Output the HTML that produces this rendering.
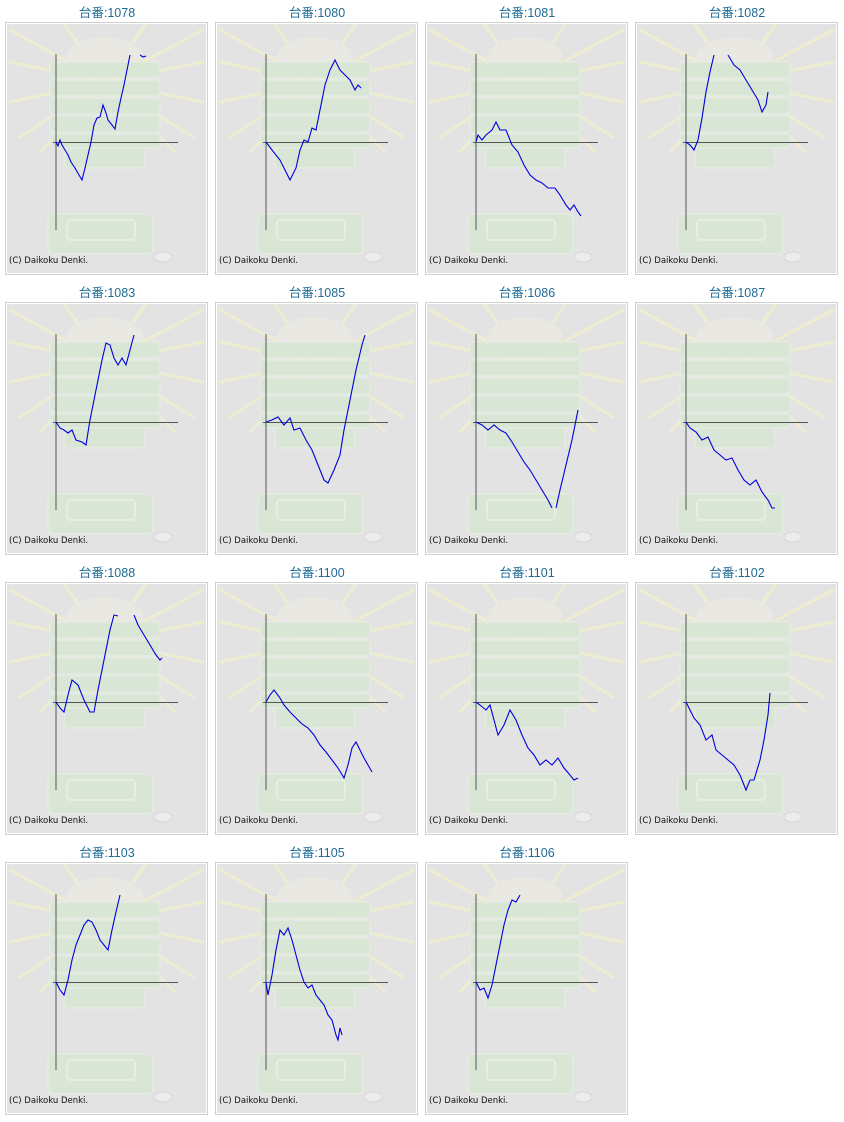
<!DOCTYPE html>
<html><head><meta charset="utf-8"><style>
body{margin:0;background:#fff;}
svg{display:block}
.t{font-family:"Liberation Sans","Noto Sans CJK JP",sans-serif;font-size:12.5px;fill:#1e6b96;text-anchor:middle}
.c{font-family:"DejaVu Sans","Liberation Sans",sans-serif;font-size:8.5px;fill:#111}
polyline.d{fill:none;stroke:#0000dd;stroke-width:1.1}
</style></head><body>
<svg width="844" height="1122" viewBox="0 0 844 1122" xmlns="http://www.w3.org/2000/svg">
<defs>
<g id="bg">
<rect x="0.5" y="0.5" width="202" height="252" fill="#fff" stroke="#cfcfcf"/>
<rect x="2" y="2" width="199" height="249" fill="#e3e3e3"/>
<g stroke="#eeedd2" stroke-width="3" stroke-linecap="round">
<line x1="100" y1="60" x2="5" y2="8"/><line x1="100" y1="60" x2="5" y2="40"/><line x1="100" y1="60" x2="5" y2="80"/><line x1="100" y1="60" x2="15" y2="115"/>
<line x1="100" y1="60" x2="198" y2="8"/><line x1="100" y1="60" x2="198" y2="40"/><line x1="100" y1="60" x2="198" y2="80"/><line x1="100" y1="60" x2="188" y2="115"/>
<line x1="100" y1="60" x2="60" y2="3"/><line x1="100" y1="60" x2="140" y2="3"/><line x1="100" y1="60" x2="35" y2="130"/><line x1="100" y1="60" x2="170" y2="130"/>
</g>
<ellipse cx="100" cy="35" rx="38" ry="20" fill="#e9e8e3"/>
<g fill="#d9e6d5" stroke="#e4ece1" stroke-width="1.5">
<rect x="45" y="40" width="110" height="16" rx="3"/><rect x="45" y="58" width="110" height="16" rx="3"/>
<rect x="45" y="76" width="110" height="16" rx="3"/><rect x="45" y="94" width="110" height="16" rx="3"/>
<rect x="45" y="112" width="110" height="14" rx="3"/><rect x="60" y="126" width="80" height="20" rx="3"/>
<rect x="43" y="192" width="105" height="40" rx="5"/>
</g>
<rect x="62" y="198" width="68" height="20" rx="3" fill="none" stroke="#e6ede3" stroke-width="2"/>
<ellipse cx="158" cy="235" rx="9" ry="5" fill="#ececec" stroke="#d6d6d6"/>
<line x1="51" y1="32" x2="51" y2="208" stroke="#555" stroke-width="1"/>
<line x1="48" y1="120.5" x2="173" y2="120.5" stroke="#555" stroke-width="1"/>
<text class="c" x="4" y="241">(C) Daikoku Denki.</text>
</g>
</defs>
<text class="t" x="107" y="17">台番:1078</text><text class="t" x="317" y="17">台番:1080</text><text class="t" x="527" y="17">台番:1081</text><text class="t" x="737" y="17">台番:1082</text>
<text class="t" x="107" y="297">台番:1083</text><text class="t" x="317" y="297">台番:1085</text><text class="t" x="527" y="297">台番:1086</text><text class="t" x="737" y="297">台番:1087</text>
<text class="t" x="107" y="577">台番:1088</text><text class="t" x="317" y="577">台番:1100</text><text class="t" x="527" y="577">台番:1101</text><text class="t" x="737" y="577">台番:1102</text>
<text class="t" x="107" y="857">台番:1103</text><text class="t" x="317" y="857">台番:1105</text><text class="t" x="527" y="857">台番:1106</text>
<use href="#bg" x="5" y="22"/><use href="#bg" x="215" y="22"/><use href="#bg" x="425" y="22"/><use href="#bg" x="635" y="22"/>
<use href="#bg" x="5" y="302"/><use href="#bg" x="215" y="302"/><use href="#bg" x="425" y="302"/><use href="#bg" x="635" y="302"/>
<use href="#bg" x="5" y="582"/><use href="#bg" x="215" y="582"/><use href="#bg" x="425" y="582"/><use href="#bg" x="635" y="582"/>
<use href="#bg" x="5" y="862"/><use href="#bg" x="215" y="862"/><use href="#bg" x="425" y="862"/>

<polyline class="d" points="56,142 58,146 60,140 62,145 65,150 68,155 71,162 75,168 79,175 82,180 85,168 88,155 91,142 94,125 97,118 100,117 103,105 106,113 108,120 112,125 115,129 118,112 121,98 124,85 127,70 130,55"/>
<polyline class="d" points="140,55 143,57 146,56"/>
<polyline class="d" points="266,142 272,150 280,160 285,170 290,180 296,168 300,150 304,140 308,142 312,128 316,130 320,110 325,85 330,70 335,60 340,70 345,75 350,80 355,90 358,85 361,88"/>
<polyline class="d" points="476,142 478,135 482,140 486,135 492,130 496,122 500,130 506,130 512,145 518,152 524,165 530,175 536,180 542,183 548,188 555,188 560,195 566,205 570,210 574,205 578,212 581,216"/>
<polyline class="d" points="686,142 690,145 694,150 698,140 702,118 706,92 710,72 714,55"/>
<polyline class="d" points="728,55 734,65 740,70 746,80 752,90 758,100 762,112 766,105 768,92"/>
<polyline class="d" points="56,422 60,428 64,430 68,433 72,430 76,440 82,442 86,445 90,420 94,400 98,380 102,360 106,343 110,345 114,358 118,365 122,358 126,365 130,350 134,335"/>
<polyline class="d" points="266,422 272,420 278,417 284,425 290,418 294,430 300,428 306,440 312,450 318,465 324,480 328,483 334,470 340,455 344,430 350,400 356,370 362,345 365,335"/>
<polyline class="d" points="476,422 482,425 488,430 494,425 500,430 506,433 512,442 518,452 524,462 530,470 536,480 542,490 548,500 552,508"/>
<polyline class="d" points="556,508 560,490 566,465 572,440 578,410"/>
<polyline class="d" points="686,422 690,428 696,432 702,440 708,437 714,450 720,455 726,460 732,458 738,470 744,480 750,485 756,480 762,492 768,500 772,508 775,508"/>
<polyline class="d" points="56,702 60,708 64,712 68,695 72,680 78,685 84,700 90,712 94,712 98,690 102,670 106,650 110,630 114,615 118,616"/>
<polyline class="d" points="134,615 138,625 144,635 150,645 156,655 160,660 162,658"/>
<polyline class="d" points="266,702 270,695 274,690 280,698 284,705 290,712 296,718 302,724 308,728 314,735 320,745 326,752 332,760 338,768 344,778 348,765 352,748 356,742 360,750 364,758 368,765 372,772"/>
<polyline class="d" points="476,702 480,705 486,710 490,705 494,720 498,735 504,725 510,710 516,720 522,735 528,748 534,755 540,765 546,760 552,765 558,758 564,768 570,775 574,780 578,778"/>
<polyline class="d" points="686,702 690,710 694,718 700,725 706,740 712,735 716,750 722,755 728,760 734,765 740,775 746,790 750,780 754,780 760,760 764,740 768,715 770,693"/>
<polyline class="d" points="56,982 60,990 64,995 68,980 72,960 76,945 80,935 84,925 88,920 92,922 96,930 100,940 104,945 108,950 112,930 116,912 120,895"/>
<polyline class="d" points="266,982 268,995 272,975 276,950 280,930 284,935 288,928 292,940 296,955 300,970 304,982 308,988 312,985 316,995 320,1000 324,1005 328,1015 332,1020 336,1035 338,1040 340,1028 342,1035"/>
<polyline class="d" points="476,982 480,990 484,988 488,998 492,985 496,965 500,945 504,925 508,910 512,900 516,902 520,895"/>
</svg>
</body></html>
